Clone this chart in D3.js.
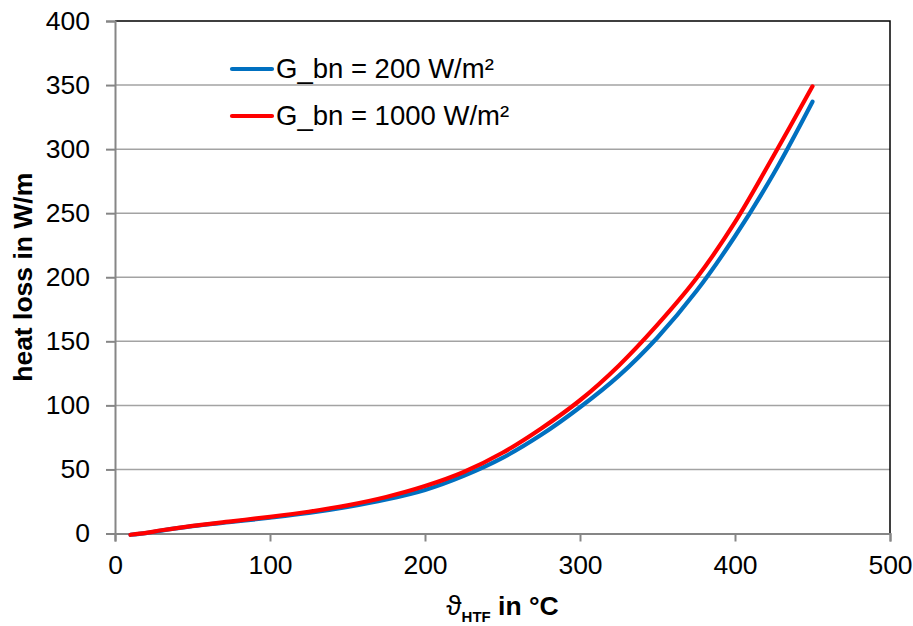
<!DOCTYPE html>
<html>
<head>
<meta charset="utf-8">
<script src="https://cdn.jsdelivr.net/npm/d3@7"></script>
<style>
  html, body { margin: 0; padding: 0; background: #fff; }
  svg { display: block; font-family: Arial, "Liberation Sans", sans-serif; }
</style>
</head>
<body>
<svg id="chart" width="913" height="626"></svg>
<script>
// ---- data ----
const temperatures = [10, 20, 30, 50, 75, 100, 125, 150, 175, 200, 225, 250, 275, 300, 325, 350, 375, 400, 425, 450];
const loss200  = [-1, 0.3, 2.3, 5.7, 9.0, 12.3, 16.0, 20.7, 26.5, 34.0, 45.0, 59.0, 77.0, 98.5, 123, 153, 189, 232, 281, 337];
const loss1000 = [-1, 0.5, 2.5, 6.0, 9.5, 13.0, 17.0, 22.0, 28.5, 37.0, 48.0, 63.0, 82.0, 104, 131, 163, 199, 243, 295, 349];
const seriesNames = ["G_bn = 200 W/m²", "G_bn = 1000 W/m²"];
const xTicks = [0, 100, 200, 300, 400, 500];
const yTicks = [0, 50, 100, 150, 200, 250, 300, 350, 400];

// ---- layout ----
const svg = d3.select("#chart");
const L = 115, R = 890, T = 21, B = 533.5;
const x = d3.scaleLinear().domain([0, 500]).range([L, R]);
const y = d3.scaleLinear().domain([0, 400]).range([B, T]);
const fontSize = 26.5;

// gridlines
svg.append("g").selectAll("line")
  .data(yTicks.filter(v => v > 0 && v < 400))
  .join("line")
  .attr("x1", L).attr("x2", R)
  .attr("y1", d => y(d)).attr("y2", d => y(d))
  .attr("stroke", "#a3a3a3").attr("stroke-width", 1.5);

// top & right border
svg.append("path")
  .attr("d", `M${L},${y(400)}H${R}V${B}`)
  .attr("fill", "none").attr("stroke", "#000").attr("stroke-width", 1.5);

// y axis
const yAxis = d3.axisLeft(y).tickValues(yTicks).tickSize(9).tickPadding(16).tickFormat(d3.format("d"));
const gy = svg.append("g").attr("transform", `translate(${L},0)`).call(yAxis);
gy.select(".domain").attr("stroke", "#868686").attr("stroke-width", 2);
gy.selectAll(".tick line").attr("stroke", "#868686").attr("stroke-width", 2);
gy.selectAll(".tick text").attr("font-size", fontSize).attr("fill", "#000")
  .attr("font-family", "Arial, 'Liberation Sans', sans-serif");

// x axis
const xAxis = d3.axisBottom(x).tickValues(xTicks).tickSize(8).tickPadding(14).tickFormat(d3.format("d"));
const gx = svg.append("g").attr("transform", `translate(0,${B})`).call(xAxis);
gx.select(".domain").attr("stroke", "#868686").attr("stroke-width", 2);
gx.selectAll(".tick line").attr("stroke", "#868686").attr("stroke-width", 2);
gx.selectAll(".tick text").attr("font-size", fontSize).attr("fill", "#000")
  .attr("font-family", "Arial, 'Liberation Sans', sans-serif");

// lines
const line = d3.line()
  .x(d => x(d[0])).y(d => y(d[1]))
  .curve(d3.curveCatmullRom.alpha(0.5));
const colors = ["#0070c0", "#ff0000"];
[loss200, loss1000].forEach((vals, i) => {
  svg.append("path")
    .datum(temperatures.map((t, k) => [t, vals[k]]))
    .attr("d", line)
    .attr("fill", "none")
    .attr("stroke", colors[i])
    .attr("stroke-width", 4.2)
    .attr("stroke-linecap", "round")
    .attr("stroke-linejoin", "round");
});

// legend
const leg = svg.append("g");
seriesNames.forEach((name, i) => {
  const cy = 69 + i * 47;
  leg.append("line")
    .attr("x1", 232).attr("x2", 272).attr("y1", cy).attr("y2", cy)
    .attr("stroke", colors[i]).attr("stroke-width", 4.2).attr("stroke-linecap", "round");
  leg.append("text")
    .attr("x", 276).attr("y", cy + 9)
    .attr("font-size", 27.5).attr("fill", "#000")
    .text(name);
});

// y axis title
svg.append("text")
  .attr("transform", `translate(32,${(T + B) / 2}) rotate(-90)`)
  .attr("text-anchor", "middle")
  .attr("font-size", fontSize).attr("font-weight", "bold")
  .text("heat loss in W/m");

// x axis title
const xt = svg.append("text")
  .attr("x", (L + R) / 2).attr("y", 615)
  .attr("text-anchor", "middle")
  .attr("font-size", fontSize).attr("font-weight", "bold");
xt.append("tspan").attr("font-weight", "normal").attr("font-size", 28).text("ϑ");
xt.append("tspan").attr("font-size", 15).attr("dy", 6.5).text("HTF");
xt.append("tspan").attr("dy", -6.5).text(" in °C");
</script>
</body>
</html>
